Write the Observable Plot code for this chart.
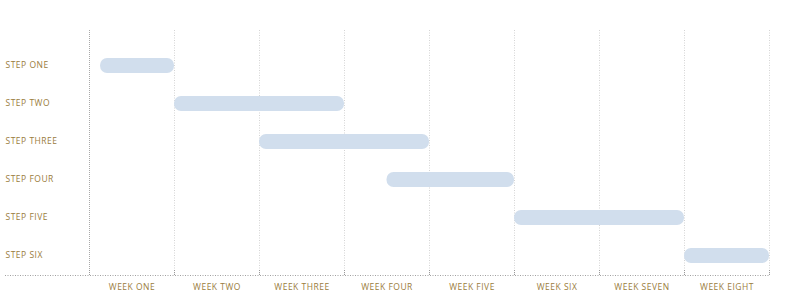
<!DOCTYPE html>
<html>
<head>
<meta charset="utf-8">
<script src="https://cdn.jsdelivr.net/npm/d3@7"></script>
<script src="https://cdn.jsdelivr.net/npm/@observablehq/plot@0.6"></script>
<style>
  html, body { margin: 0; padding: 0; background: #fff; }
  #chart svg { display: block; }
</style>
</head>
<body>
<div id="chart"></div>
<script>
const steps = ["STEP ONE", "STEP TWO", "STEP THREE", "STEP FOUR", "STEP FIVE", "STEP SIX"];
const starts = [0.13, 1, 2, 3.5, 5, 7];
const ends = [1, 3, 4, 5, 7, 8];
const weeks = ["WEEK ONE", "WEEK TWO", "WEEK THREE", "WEEK FOUR", "WEEK FIVE", "WEEK SIX", "WEEK SEVEN", "WEEK EIGHT"];
const boundaries = [0, 1, 2, 3, 4, 5, 6, 7, 8];

const tasks = steps.map((s, i) => ({step: s, start: starts[i], end: ends[i]}));
const mids = weeks.map((w, i) => i + 0.5);
const textColor = "#9a7c3c";

const chart = Plot.plot({
  width: 800,
  height: 300,
  marginTop: 30,
  marginBottom: 25,
  marginLeft: 89,
  marginRight: 31,
  style: {fontFamily: "'Open Sans', sans-serif", fontSize: "8.5px", background: "#fff"},
  x: {domain: [0, 8]},
  y: {domain: steps, range: [45, 274], padding: 0, axis: null},
  marks: [
    Plot.ruleX(boundaries.slice(1), {stroke: "#d4d4d4", strokeDasharray: "1,1.5", strokeWidth: 1}),
    Plot.ruleX([0], {stroke: "#a8a8a8", strokeDasharray: "1,1", strokeWidth: 1}),
    Plot.ruleY([steps[steps.length - 1]], {dy: 20, insetLeft: -84, stroke: "#a0a0a0", strokeDasharray: "1,1.5"}),
    Plot.axisX({ticks: boundaries, tickSize: -5, tickFormat: () => "", stroke: "#999", strokeDasharray: "1,1"}),
    Plot.axisX({ticks: mids, tickSize: 0, tickPadding: 8, tickFormat: d => weeks[Math.floor(d)], fill: textColor}),
    Plot.barX(tasks, {x1: "start", x2: "end", y: "step", fill: "#d1deed", rx: 7, insetTop: 12, insetBottom: 11}),
    Plot.text(steps, {y: d => d, frameAnchor: "left", textAnchor: "start", dx: -84, fill: textColor})
  ]
});
chart.querySelectorAll("text").forEach(t => t.style.letterSpacing = "0.5px");
document.getElementById("chart").appendChild(chart);
</script>
</body>
</html>
